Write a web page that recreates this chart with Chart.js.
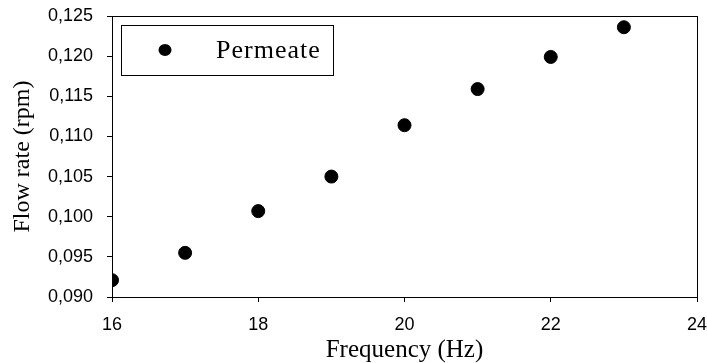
<!DOCTYPE html>
<html>
<head>
<meta charset="utf-8">
<script src="https://cdn.jsdelivr.net/npm/chart.js@4/dist/chart.umd.min.js"></script>
<style>
  html, body { margin: 0; padding: 0; background: #fff; }
  #wrap { width: 707px; height: 363px; }
</style>
</head>
<body>
<div id="wrap"><canvas id="myChart" width="707" height="363"></canvas></div>
<script>
// values
const frequency = [16, 17, 18, 19, 20, 21, 22, 23];
const permeate = [0.0921, 0.0955, 0.1007, 0.1050, 0.1114, 0.1159, 0.1199, 0.1236];
const seriesName = "Permeate";
const xTitle = "Frequency (Hz)";
const yTitle = "Flow rate (rpm)";

// box around the plot + legend inside
const frameAndLegend = {
  id: "frameAndLegend",
  afterDraw(chart) {
    const { ctx, chartArea } = chart;
    ctx.save();
    ctx.strokeStyle = "#000";
    ctx.lineWidth = 1;
    ctx.strokeRect(chartArea.left + 0.5, chartArea.top + 0.5,
      chartArea.right - chartArea.left, chartArea.bottom - chartArea.top);

    // legend box
    const lx = 121, ly = 25, lw = 212, lh = 50;
    ctx.strokeRect(lx + 0.5, ly + 0.5, lw, lh);
    chart.data.datasets.forEach((ds) => {
      ctx.fillStyle = ds.backgroundColor;
      ctx.beginPath();
      ctx.ellipse(lx + 44, ly + 25, 6.5, 6, 0, 0, Math.PI * 2);
      ctx.fill();
      ctx.fillStyle = "#000";
      ctx.font = "26px 'Liberation Serif'";
      ctx.letterSpacing = "1px";
      ctx.textBaseline = "middle";
      ctx.fillText(ds.label, lx + 95, ly + 26);
    });
    ctx.restore();
  },
};

const ctx = document.getElementById("myChart");
new Chart(ctx, {
  type: "scatter",
  data: {
    datasets: [
      {
        label: seriesName,
        data: frequency.map((f, i) => ({ x: f, y: permeate[i] })),
        backgroundColor: "#000",
        borderColor: "#000",
        pointRadius: 6.5,
        pointHoverRadius: 6.5,
      },
    ],
  },
  options: {
    responsive: false,
    animation: false,
    layout: { padding: { top: 16, right: 10, left: 0, bottom: 0 } },
    plugins: { legend: { display: false }, tooltip: { enabled: false } },
    scales: {
      x: {
        type: "linear",
        min: 16,
        max: 24,
        afterFit: (scale) => {
          scale.height = 66;
          scale.paddingLeft = 0;
          scale.paddingRight = 0;
        },
        ticks: {
          stepSize: 2,
          color: "#000",
          padding: 12,
          font: { family: "'Liberation Sans'", size: 18 },
        },
        grid: { drawOnChartArea: false, drawTicks: true, tickLength: 5, color: "#000" },
        border: { color: "#000", width: 1 },
        title: {
          display: true,
          text: xTitle,
          color: "#000",
          font: { family: "'Liberation Serif'", size: 25 },
          padding: { top: 0, bottom: -2 },
        },
      },
      y: {
        min: 0.09,
        max: 0.125,
        afterFit: (scale) => {
          scale.width = 112;
          scale.paddingTop = 0;
          scale.paddingBottom = 0;
        },
        ticks: {
          stepSize: 0.005,
          color: "#000",
          padding: 14,
          font: { family: "'Liberation Sans'", size: 18 },
          callback: (v) => v.toFixed(3).replace(".", ","),
        },
        grid: { drawOnChartArea: false, drawTicks: true, tickLength: 5, color: "#000" },
        border: { color: "#000", width: 1 },
        title: {
          display: true,
          text: yTitle,
          color: "#000",
          font: { family: "'Liberation Serif'", size: 24 },
          padding: { top: 8, bottom: 0 },
        },
      },
    },
  },
  plugins: [frameAndLegend],
});
</script>
</body>
</html>
